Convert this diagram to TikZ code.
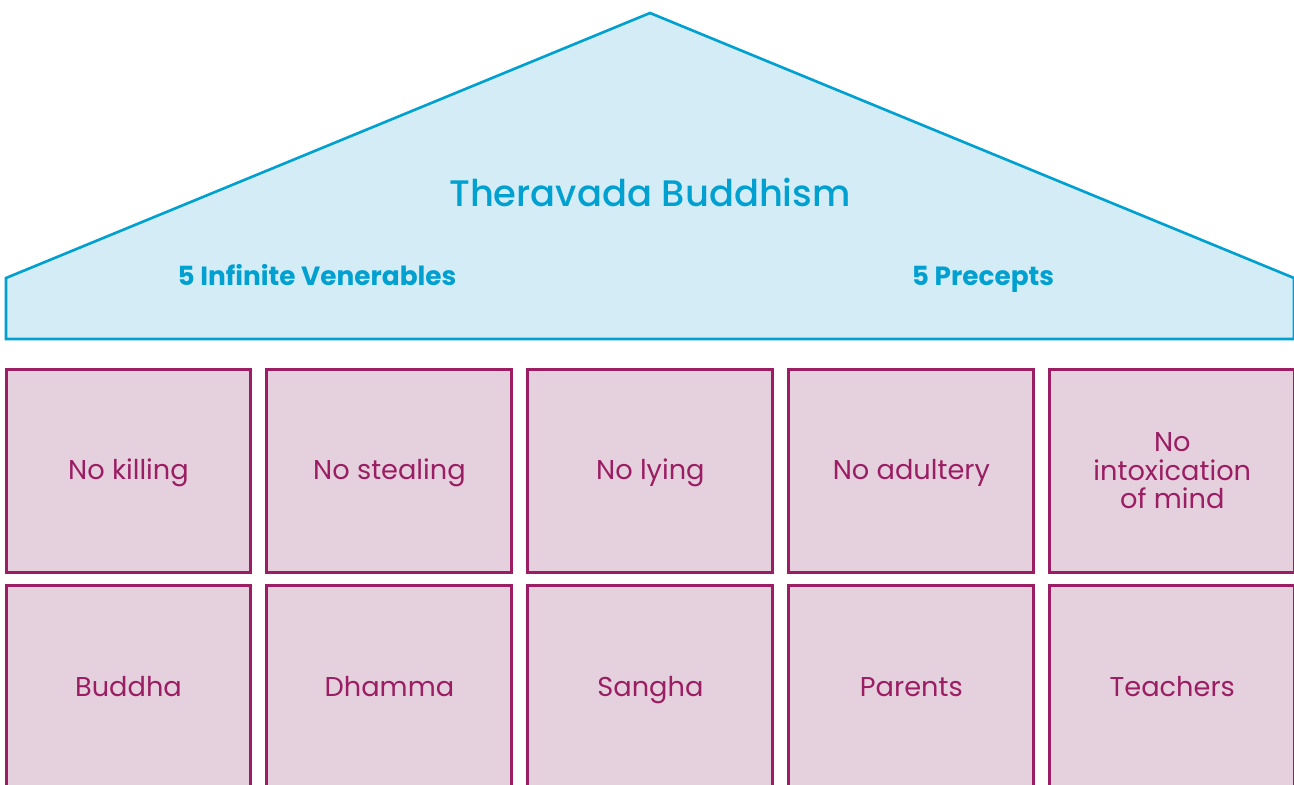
\documentclass[tikz,border=0pt]{standalone}
\usepackage{fontspec}
\setmainfont{Poppins}
\newfontfamily\mediumfont{Poppins Medium}
\usetikzlibrary{positioning}
\definecolor{roofblue}{HTML}{00A0D1}
\definecolor{rooffill}{HTML}{D4ECF6}
\definecolor{pillarline}{HTML}{9B1D63}
\definecolor{pillarfill}{HTML}{E5D1DE}
\tikzstyle{pillar} = [rectangle, draw=pillarline, fill=pillarfill, line width=1.7pt, outer sep=0pt,
                text=pillarline, align=center, minimum width=4.9cm, minimum height=4.08cm,
                text height=2.2ex, text depth=0.4ex, font=\fontsize{15.5}{16.2}\selectfont]
\tikzstyle{roof} = [draw=roofblue, fill=rooffill, line width=1.5pt, line join=miter]
\tikzstyle{heading} = [text=roofblue, text height=2.2ex, text depth=0.4ex,
                font=\bfseries\fontsize{15}{18}\selectfont]

\begin{document}
\begin{tikzpicture}[x=0.02cm, y=-0.02cm]
        \useasboundingbox (0,0) rectangle (1294,784);
        \clip (0,0) rectangle (1294,784);
        \draw[roof] (6,339) -- (6,278) -- (650,13) -- (1294,278) -- (1294,339) -- cycle;
        \node[text=roofblue, font=\mediumfont\fontsize{21}{24}\selectfont](title) at (650,192){Theravada Buddhism};
        \node[heading](venerables) at (317,277){5 Infinite Venerables};
        \node[heading](precepts) at (983,277){5 Precepts};
        % precepts row
        \node[pillar](killing) at (128.5,471){No killing};
        \node[pillar, right=0.32cm of killing](stealing){No stealing};
        \node[pillar, right=0.32cm of stealing](lying){No lying};
        \node[pillar, right=0.32cm of lying](adultery){No adultery};
        \node[pillar, right=0.32cm of adultery, text height=, text depth=](intox){No\\ intoxication\\ of mind};
        % venerables row
        \node[pillar, below=0.26cm of killing](buddha){Buddha};
        \node[pillar, below=0.26cm of stealing](dhamma){Dhamma};
        \node[pillar, below=0.26cm of lying](sangha){Sangha};
        \node[pillar, below=0.26cm of adultery](parents){Parents};
        \node[pillar, below=0.26cm of intox](teachers){Teachers};
    \end{tikzpicture}
\end{document}
